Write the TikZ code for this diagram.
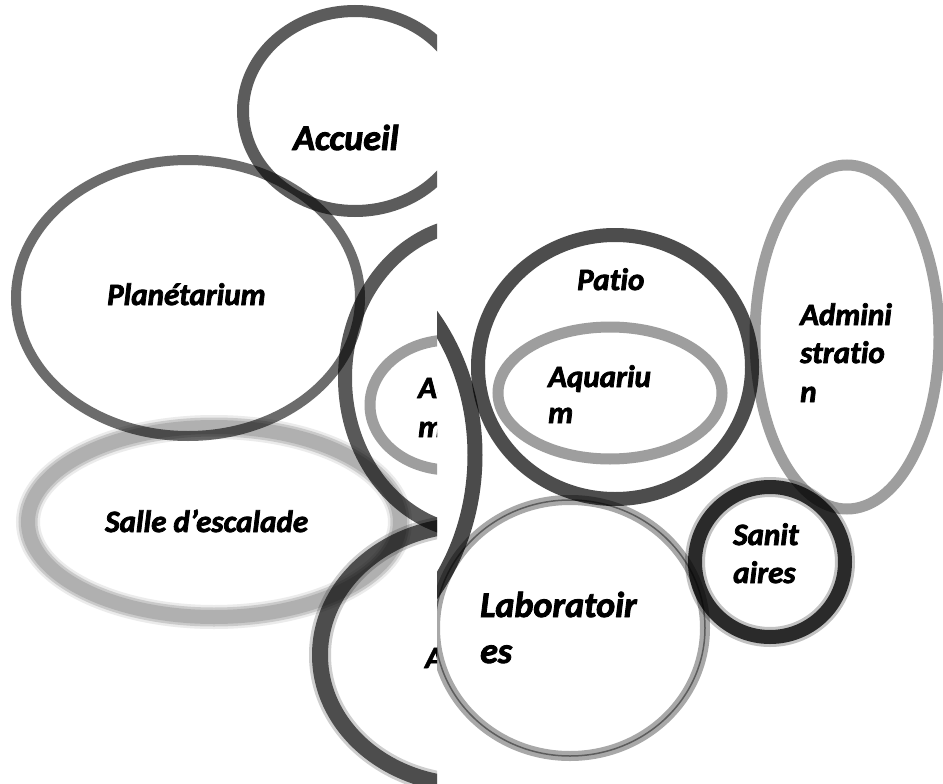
\documentclass[tikz,border=0pt]{standalone}
\usepackage{fontspec}
\setmainfont{Carlito}[Ligatures=NoCommon, BoldItalicFeatures={FakeBold=2.5}]
\definecolor{gA}{HTML}{5C5C5C}
\definecolor{gP}{HTML}{6C6C6C}
\definecolor{gS}{HTML}{B0B0B0}
\definecolor{gD}{HTML}{595959}
\definecolor{gL}{HTML}{9E9E9E}
\definecolor{gB}{HTML}{606060}
\definecolor{gK}{HTML}{4B4B4B}
\definecolor{gT}{HTML}{4D4D4D}
\definecolor{gN}{HTML}{383838}
\definecolor{gR}{HTML}{A8A8A8}
\begin{document}
\begin{tikzpicture}[x=1pt,y=-1pt,
  lbl/.style={font=\bfseries\itshape\fontsize{31}{38}\selectfont,
              text=black, inner sep=0pt, anchor=base west},
  biglbl/.style={lbl, font=\bfseries\itshape\fontsize{36}{44}\selectfont},
  soft/.style={blend mode=multiply},
  core/.style={blend mode=normal}]
\useasboundingbox (0,0) rectangle (943,784);
\fill[white] (0,0) rectangle (943,784);

% ---------- left panel ----------
\begin{scope}[soft]
  \clip (0,0) rectangle (437,784);
  % climbing hall (soft edged ring)
  \draw[gS, line width=24, opacity=0.25] (214,522) ellipse [x radius=186, y radius=95];
  \draw[gS, line width=19, opacity=0.45] (214,522) ellipse [x radius=186, y radius=95];
  \draw[gS, line width=14, core] (214,522) ellipse [x radius=186, y radius=95];
  % planetarium
  \draw[gP, line width=10] (188,298) ellipse [x radius=172, y radius=138];
  % reception
  \draw[gA, line width=12] (355,111) ellipse [x radius=112, y radius=100];
  % large dark ring and inner aquarium ring
  \draw[gD, line width=14] (480,378) ellipse [x radius=135, y radius=155];
  \draw[gL, line width=11] (450,405) ellipse [x radius=80, y radius=65];
  % lower dark ring
  \draw[gB, line width=22, opacity=0.3] (470,655) ellipse [x radius=150, y radius=130];
  \draw[gB, line width=16] (470,655) ellipse [x radius=150, y radius=130];

  \node[biglbl] (accueil) at (293,150) {Accueil};
  \node[lbl] (planet) at (107,305) {Planétarium};
  \node[lbl] (salle) at (105,532) {Salle d’escalade};
  \node[lbl] (aqL1) at (418,398) {Aquariu};
  \node[lbl] (aqL2) at (418,437) {m};
  \node[lbl] (botL) at (425,668) {A};
\end{scope}

% ---------- right panel ----------
\begin{scope}[soft]
  \clip (437,0) rectangle (943,784);
  % dark band on the left edge
  \draw[gK, line width=15] (290,455) ellipse [x radius=185, y radius=216];
  % patio with aquarium inside
  \draw[gT, line width=14] (615,367) ellipse [x radius=137, y radius=132];
  \draw[gL, line width=11] (610,393) ellipse [x radius=112, y radius=66];
  % administration
  \draw[gL, line width=11] (847,337) ellipse [x radius=92, y radius=172];
  % laboratories
  \draw[gR, line width=10] (570,628) ellipse [x radius=135, y radius=128];
  \draw[black!45, line width=1.5] (570,628) ellipse [x radius=135, y radius=128];
  % toilets
  \draw[gN, line width=20, opacity=0.3] (770,562) ellipse [x radius=75, y radius=75];
  \draw[gN, line width=14] (770,562) ellipse [x radius=75, y radius=75];

  \node[lbl] (patio) at (577,290) {Patio};
  \node[lbl] (aq1) at (548,387) {Aquariu};
  \node[lbl] (aq2) at (548,423) {m};
  \node[lbl] (adm1) at (800,325) {Admini};
  \node[lbl] (adm2) at (800,363) {stratio};
  \node[lbl] (adm3) at (800,402) {n};
  \node[lbl] (san1) at (733,545) {Sanit};
  \node[lbl] (san2) at (733,583) {aires};
  \node[biglbl] (lab1) at (480,617) {Laboratoir};
  \node[biglbl] (lab2) at (480,663) {es};
\end{scope}
\end{tikzpicture}
\end{document}
